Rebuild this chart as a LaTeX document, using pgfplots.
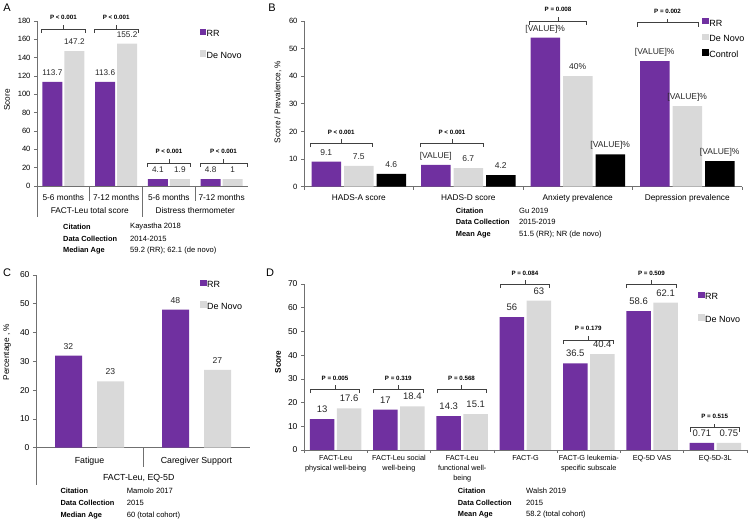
\documentclass[border=0pt]{standalone}
\usepackage{fontspec}
\setmainfont{Liberation Sans}
\usepackage{pgfplots}
\pgfplotsset{compat=1.18}
\usetikzlibrary{calc}
\definecolor{rr}{HTML}{7030A0}
\definecolor{dn}{HTML}{D9D9D9}
\definecolor{axc}{HTML}{707070}
\definecolor{brc}{HTML}{404040}
\newcommand{\pfont}{\fontsize{6.2}{7}\selectfont\bfseries}
\newcommand{\tk}{\fontsize{7.6}{9}\selectfont}
\newcommand{\lb}{\fontsize{9}{10.8}\selectfont}
\newcommand{\ct}{\fontsize{8.3}{10}\selectfont}
\newcommand{\cit}{\fontsize{7.6}{9}\selectfont}
\newcommand{\citb}{\fontsize{7.4}{9}\selectfont\bfseries}
\tikzset{brk/.style={brc, line width=0.6pt}}
\newcommand{\pbr}[4]{%
 \draw[brk] ([yshift=-4pt]axis cs:#1,#3) -- (axis cs:#1,#3) -- (axis cs:#2,#3) -- ([yshift=-4pt]axis cs:#2,#3);
 \draw[brk] ($(axis cs:#1,#3)!0.5!(axis cs:#2,#3)$) -- ++(0pt,4pt) node[anchor=base, yshift=5pt, font=\pfont, text=black, inner sep=0pt]{#4};
}
\newcommand{\sep}[2]{\draw[axc, line width=0.7pt] (axis cs:#1,0) -- ++(0pt,-#2);}
\pgfplotsset{
 panel/.style={
  scale only axis, clip=false, anchor=south west, enlargelimits=false,
  axis x line*=bottom, axis y line*=left,
  axis line style={axc, line width=0.7pt},
  ymin=0,
  major x tick style={draw=none},
  ytick style={axc, line width=0.7pt},
  tick align=outside, major tick length=3pt,
  yticklabel style={font=\tk},
  /pgf/number format/assume math mode=true,
  ybar,
  nodes near coords, point meta=explicit symbolic,
  every node near coord/.append style={font=\fontsize{8.2}{10}\selectfont, anchor=base, yshift=6.5pt, text=black!85},
  legend style={draw=none, fill=none, inner sep=0pt, font=\lb,
    nodes={inner sep=0.5pt, text height=6.5pt, text depth=0pt}},
  legend cell align=left,
 },
 sqleg/.style={legend image code/.code={\fill[##1] (0pt,-1.5pt) rectangle (6.5pt,5pt);}},
}
\begin{document}
\begin{tikzpicture}[x=1pt,y=1pt]
% ---------------- Panel A ----------------
\begin{axis}[panel, at={(37pt,338pt)}, width=211pt, height=165pt,
  xmin=-0.5, xmax=3.5, ymax=180, ytick={0,20,...,180},
  bar width=20pt, ybar=2pt, sqleg,
  xtick={0,1,2,3}, xticklabels={5-6 months,7-12 months,5-6 months,7-12 months},
  xticklabel style={font=\ct, yshift=-2pt},
  legend style={at={(0.77,0.955)}, anchor=north west, row sep=13pt}]
\addplot[fill=rr, draw=none] table[x=x, y=y, meta=l] {
x y l
0 113.7 113.7
1 113.6 113.6
2 7.5 4.1
3 7.5 4.8
};
\addplot[fill=dn, draw=none] table[x=x, y=y, meta=l] {
x y l
0 147.2 147.2
1 155.2 155.2
2 7.5 1.9
3 7.5 1
};
\legend{RR, De Novo}
\sep{0.5}{15pt}
\sep{2.5}{15pt}
\sep{1.5}{31pt}
\sep{-0.5}{31pt}
\node[font=\ct] at ([yshift=-25pt]axis cs:0.5,0) {FACT-Leu total score};
\node[font=\ct] at ([yshift=-25pt]axis cs:2.5,0) {Distress thermometer};
\pbr{-0.42}{0.42}{171.3}{P < 0.001}
\pbr{0.58}{1.42}{171.3}{P < 0.001}
\pbr{1.6}{2.4}{25.1}{P < 0.001}
\pbr{2.59}{3.48}{25.1}{P < 0.001}
\end{axis}
% ---------------- Panel B ----------------
\begin{axis}[panel, at={(304pt,337.3pt)}, width=438pt, height=165.7pt,
  xmin=-0.5, xmax=3.5, ymax=60, ytick={0,10,...,60},
  bar width=29.5pt, ybar=3pt, sqleg,
  xtick={0,1,2,3}, xticklabels={HADS-A score,HADS-D score,Anxiety prevalence,Depression prevalence},
  xticklabel style={font=\ct, yshift=-1pt},
  every node near coord/.append style={font=\fontsize{8.5}{10}\selectfont},
  legend style={at={(0.909,1.02)}, anchor=north west, row sep=7pt}]
\addplot[fill=rr, draw=none] table[x=x, y=y, meta=l] {
x y l
0 9.1 9.1
1 7.9 [VALUE]
2 54 [VALUE]\%
3 45.5 [VALUE]\%
};
\addplot[fill=dn, draw=none] table[x=x, y=y, meta=l] {
x y l
0 7.5 7.5
1 6.7 6.7
2 40 40\%
3 29.2 [VALUE]\%
};
\addplot[fill=black, draw=none] table[x=x, y=y, meta=l] {
x y l
0 4.6 4.6
1 4.2 4.2
2 11.7 [VALUE]\%
3 9.3 [VALUE]\%
};
\legend{RR, De Novo, Control}
\sep{-0.5}{3pt}
\sep{0.5}{3pt}
\sep{1.5}{3pt}
\sep{2.5}{3pt}
\sep{3.5}{3pt}
\pbr{-0.44}{0.12}{15.7}{P < 0.001}
\pbr{0.566}{1.137}{15.7}{P < 0.001}
\pbr{1.56}{2.08}{60}{P = 0.008}
\pbr{2.54}{3.10}{59.4}{P = 0.002}
\end{axis}
% ---------------- Panel C ----------------
\begin{axis}[panel, at={(36pt,76.3pt)}, width=214pt, height=172.7pt,
  xmin=-0.5, xmax=1.5, ymax=60, ytick={0,10,...,60},
  yticklabel style={font=\fontsize{8.5}{10}\selectfont},
  bar width=27pt, ybar=15pt, sqleg,
  xtick={0,1}, xticklabels={Fatigue,Caregiver Support},
  xticklabel style={font=\fontsize{8.8}{10}\selectfont, yshift=-3pt},
  every node near coord/.append style={font=\fontsize{8.6}{10}\selectfont},
  legend style={at={(0.766,0.975)}, anchor=north west, row sep=13pt}]
\addplot[fill=rr, draw=none] table[x=x, y=y, meta=l] {
x y l
0 32 32
1 48 48
};
\addplot[fill=dn, draw=none] table[x=x, y=y, meta=l] {
x y l
0 23 23
1 27 27
};
\legend{RR, De Novo}
\sep{0.5}{19.3pt}
\sep{-0.5}{37.3pt}
\node[font=\fontsize{8.8}{10}\selectfont] at ([yshift=-30.3pt]axis cs:0.46,0) {FACT-Leu, EQ-5D};
\end{axis}
% ---------------- Panel D ----------------
\begin{axis}[panel, at={(304pt,74pt)}, width=443pt, height=166pt,
  xmin=-0.5, xmax=6.5, ymax=70, ytick={0,10,...,70},
  yticklabel style={font=\fontsize{8.5}{10}\selectfont},
  bar width=24.5pt, ybar=2.5pt, sqleg,
  xtick={0,1,2,3,4,5,6},
  xticklabels={{FACT-Leu\\physical well-being},{FACT-Leu social\\well-being},{FACT-Leu\\functional well-\\being},{FACT-G},{FACT-G leukemia-\\specific subscale},{EQ-5D VAS},{EQ-5D-3L}},
  xticklabel style={font=\fontsize{7.3}{10}\selectfont, align=center, yshift=1pt},
  every node near coord/.append style={font=\fontsize{9.5}{11}\selectfont},
  legend style={at={(0.889,0.955)}, anchor=north west, row sep=14pt}]
\addplot[fill=rr, draw=none] table[x=x, y=y, meta=l] {
x y l
0 13 13
1 17 17
2 14.3 14.3
3 56 56
4 36.5 36.5
5 58.6 58.6
6 3 0.71
};
\addplot[fill=dn, draw=none] table[x=x, y=y, meta=l] {
x y l
0 17.6 17.6
1 18.4 18.4
2 15.1 15.1
3 63 63
4 40.4 40.4
5 62.1 62.1
6 3 0.75
};
\legend{RR, De Novo}
\sep{-0.5}{3pt}
\sep{0.5}{3pt}
\sep{1.5}{3pt}
\sep{2.5}{3pt}
\sep{3.5}{3pt}
\sep{4.5}{3pt}
\sep{5.5}{3pt}
\sep{6.5}{3pt}
\pbr{-0.4}{0.38}{25.7}{P = 0.005}
\pbr{0.6}{1.38}{25.7}{P = 0.319}
\pbr{1.6}{2.38}{25.7}{P = 0.568}
\pbr{2.6}{3.38}{69.9}{P = 0.084}
\pbr{3.6}{4.38}{46.4}{P = 0.179}
\pbr{4.6}{5.38}{69.9}{P = 0.509}
\pbr{5.6}{6.38}{9.4}{P = 0.515}
\end{axis}
% ---------------- Labels ----------------
\node[font=\fontsize{11}{12}\selectfont] at (7,516) {A};
\node[font=\fontsize{11}{12}\selectfont] at (272,516) {B};
\node[font=\fontsize{11}{12}\selectfont] at (7,251) {C};
\node[font=\fontsize{11}{12}\selectfont] at (270,251) {D};
\node[rotate=90, font=\ct] at (7,424) {Score};
\node[rotate=90, font=\ct] at (278,422) {Score / Prevalence, \%};
\node[rotate=90, font=\ct] at (7,172) {Percentage , \%};
\node[rotate=90, font=\ct\bfseries] at (278,162) {Score};
% citations
\begin{scope}[every node/.style={anchor=west, font=\cit, inner sep=0pt}]
\node[font=\citb] at (63,297) {Citation};
\node[font=\citb] at (63,285) {Data Collection};
\node[font=\citb] at (63,273.3) {Median Age};
\node at (130,297) {Kayastha 2018};
\node at (130,285) {2014-2015};
\node at (130,273.3) {59.2 (RR); 62.1 (de novo)};
\node[font=\citb] at (455.7,313.3) {Citation};
\node[font=\citb] at (455.7,301.7) {Data Collection};
\node[font=\citb] at (455.7,289.7) {Mean Age};
\node at (519,313.3) {Gu 2019};
\node at (519,301.7) {2015-2019};
\node at (519,289.7) {51.5 (RR); NR (de novo)};
\node[font=\citb] at (60.3,33) {Citation};
\node[font=\citb] at (60.3,20.7) {Data Collection};
\node[font=\citb] at (60.3,8.3) {Median Age};
\node at (126.7,33) {Mamolo 2017};
\node at (126.7,20.7) {2015};
\node at (126.7,8.3) {60 (total cohort)};
\node[font=\citb] at (457.7,33.3) {Citation};
\node[font=\citb] at (457.7,20.7) {Data Collection};
\node[font=\citb] at (457.7,9) {Mean Age};
\node at (526,33.3) {Walsh 2019};
\node at (526,20.7) {2015};
\node at (526,9) {58.2 (total cohort)};
\end{scope}
\pgfresetboundingbox
\path[use as bounding box] (0,0) rectangle (750,524);
\end{tikzpicture}
\end{document}
